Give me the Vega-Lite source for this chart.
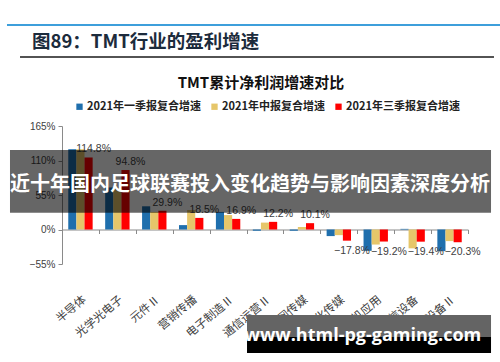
{
  "$schema": "https://vega.github.io/schema/vega-lite/v6.json",
  "width": 406,
  "height": 138,
  "autosize": "none",
  "padding": {"left": 62, "top": 126, "right": 32, "bottom": 98},
  "background": "white",
  "config": {"view": {"stroke": null}, "font": "Liberation Sans"},
  "layer": [
    {
      "data": {"values": [
        {"cat": "半导体", "s": "2021年一季报复合增速", "v": 1.28},
        {"cat": "半导体", "s": "2021年中报复合增速", "v": 1.28},
        {"cat": "半导体", "s": "2021年三季报复合增速", "v": 1.148},
        {"cat": "光学光电子", "s": "2021年一季报复合增速", "v": 0.67},
        {"cat": "光学光电子", "s": "2021年中报复合增速", "v": 0.67},
        {"cat": "光学光电子", "s": "2021年三季报复合增速", "v": 0.948},
        {"cat": "元件Ⅱ", "s": "2021年一季报复合增速", "v": 0.37},
        {"cat": "元件Ⅱ", "s": "2021年中报复合增速", "v": 0.28},
        {"cat": "元件Ⅱ", "s": "2021年三季报复合增速", "v": 0.299},
        {"cat": "营销传播", "s": "2021年一季报复合增速", "v": 0.07},
        {"cat": "营销传播", "s": "2021年中报复合增速", "v": 0.31},
        {"cat": "营销传播", "s": "2021年三季报复合增速", "v": 0.185},
        {"cat": "电子制造Ⅱ", "s": "2021年一季报复合增速", "v": 0.28},
        {"cat": "电子制造Ⅱ", "s": "2021年中报复合增速", "v": 0.23},
        {"cat": "电子制造Ⅱ", "s": "2021年三季报复合增速", "v": 0.169},
        {"cat": "通信运营Ⅱ", "s": "2021年一季报复合增速", "v": -0.02},
        {"cat": "通信运营Ⅱ", "s": "2021年中报复合增速", "v": 0.11},
        {"cat": "通信运营Ⅱ", "s": "2021年三季报复合增速", "v": 0.122},
        {"cat": "互联网传媒", "s": "2021年一季报复合增速", "v": -0.02},
        {"cat": "互联网传媒", "s": "2021年中报复合增速", "v": 0.04},
        {"cat": "互联网传媒", "s": "2021年三季报复合增速", "v": 0.101},
        {"cat": "文化传媒", "s": "2021年一季报复合增速", "v": -0.105},
        {"cat": "文化传媒", "s": "2021年中报复合增速", "v": -0.09},
        {"cat": "文化传媒", "s": "2021年三季报复合增速", "v": -0.178},
        {"cat": "计算机应用", "s": "2021年一季报复合增速", "v": -0.34},
        {"cat": "计算机应用", "s": "2021年中报复合增速", "v": -0.24},
        {"cat": "计算机应用", "s": "2021年三季报复合增速", "v": -0.192},
        {"cat": "通信设备", "s": "2021年一季报复合增速", "v": 0.01},
        {"cat": "通信设备", "s": "2021年中报复合增速", "v": -0.3},
        {"cat": "通信设备", "s": "2021年三季报复合增速", "v": -0.194},
        {"cat": "计算机设备Ⅱ", "s": "2021年一季报复合增速", "v": -0.345},
        {"cat": "计算机设备Ⅱ", "s": "2021年中报复合增速", "v": -0.185},
        {"cat": "计算机设备Ⅱ", "s": "2021年三季报复合增速", "v": -0.203}
      ]},
      "encoding": {
        "x": {"field": "cat", "type": "nominal", "sort": null,
              "scale": {"paddingInner": 0, "paddingOuter": 0},
              "axis": {"title": null, "offset": -34.5, "domainColor": "#8a8a8a", "tickColor": "#8a8a8a", "tickBand": "extent", "tickSize": 4, "labelAngle": -40, "labelPadding": 60, "labelFont": "Noto Sans CJK SC", "labelFontSize": 11.5, "labelColor": "#404040"}},
        "xOffset": {"field": "s", "type": "nominal", "sort": null, "scale": {"paddingInner": 0, "paddingOuter": 0.77}},
        "y": {"field": "v", "type": "quantitative",
              "scale": {"domain": [-0.55, 1.65], "nice": false},
              "axis": {"title": null, "values": [-0.55, 0, 0.55, 1.1, 1.65], "format": ".0%", "grid": false, "domainColor": "#8a8a8a", "tickColor": "#8a8a8a", "tickSize": 4, "labelFontSize": 10, "labelColor": "#404040", "labelPadding": 3}}
      },
      "layer": [
        {
          "mark": {"type": "bar"},
          "encoding": {
            "color": {"field": "s", "type": "nominal", "sort": null,
                      "scale": {"range": ["#1f6fad", "#e6c66a", "#ff0000"]},
                      "legend": {"title": null, "orient": "none", "direction": "horizontal", "legendX": 12, "legendY": -25, "symbolType": "square", "symbolSize": 40, "symbolStrokeWidth": 0, "labelFontSize": 11, "labelFontWeight": "bold", "labelColor": "#222222", "labelFont": "Noto Sans CJK SC", "labelOffset": 2, "columnPadding": 8, "padding": 0}}
          }
        },
        {
          "transform": [{"filter": "datum.s == '2021年三季报复合增速' && datum.v >= 0"}],
          "mark": {"type": "text", "dx": 5, "dy": -8, "fontSize": 10.5, "color": "#404040", "baseline": "middle"},
          "encoding": {"text": {"field": "v", "type": "quantitative", "format": ".1%"}}
        },
        {
          "transform": [{"filter": "datum.s == '2021年三季报复合增速' && datum.v < 0"}],
          "mark": {"type": "text", "dx": 5, "dy": 10, "fontSize": 10.5, "color": "#404040", "baseline": "middle"},
          "encoding": {"text": {"field": "v", "type": "quantitative", "format": ".1%"}}
        }
      ]
    },
    {
      "data": {"values": [
        {"item": "topline", "x1": -0.1355, "x2": 1.0788, "y1": 3.26}
      ]},
      "mark": {"type": "rule", "color": "#3d9fdb", "strokeWidth": 2},
      "encoding": {
        "x": {"field": "x1", "type": "quantitative", "scale": {"domain": [0, 1], "nice": false, "zero": false}, "axis": null},
        "x2": {"field": "x2"},
        "y": {"field": "y1", "type": "quantitative", "scale": {"domain": [-0.55, 1.65], "nice": false}, "axis": null}
      }
    },
    {
      "data": {"values": [
        {"item": "titleline", "x1": -0.1034, "x2": 1.064, "y1": 2.75}
      ]},
      "mark": {"type": "rule", "color": "#1a1a1a", "strokeWidth": 1.5},
      "encoding": {
        "x": {"field": "x1", "type": "quantitative", "scale": {"domain": [0, 1], "nice": false, "zero": false}, "axis": null},
        "x2": {"field": "x2"},
        "y": {"field": "y1", "type": "quantitative", "scale": {"domain": [-0.55, 1.65], "nice": false}, "axis": null}
      }
    },
    {
      "data": {"values": [
        {"t": "图89：TMT行业的盈利增速", "x": -0.0739, "y": 2.99}
      ]},
      "mark": {"type": "text", "align": "left", "baseline": "middle", "font": "Noto Sans CJK SC", "fontSize": 18.5, "fontWeight": "bold", "color": "#1c2b3c"},
      "encoding": {
        "x": {"field": "x", "type": "quantitative", "scale": {"domain": [0, 1], "nice": false, "zero": false}, "axis": null},
        "y": {"field": "y", "type": "quantitative", "scale": {"domain": [-0.55, 1.65], "nice": false}, "axis": null},
        "text": {"field": "t"}
      }
    },
    {
      "data": {"values": [
        {"t": "TMT累计净利润增速对比", "x": 0.49, "y": 2.33}
      ]},
      "mark": {"type": "text", "align": "center", "baseline": "middle", "font": "Noto Sans CJK SC", "fontSize": 15, "fontWeight": "bold", "color": "#111111"},
      "encoding": {
        "x": {"field": "x", "type": "quantitative", "scale": {"domain": [0, 1], "nice": false, "zero": false}, "axis": null},
        "y": {"field": "y", "type": "quantitative", "scale": {"domain": [-0.55, 1.65], "nice": false}, "axis": null},
        "text": {"field": "t"}
      }
    },
    {
      "data": {"values": [
        {"item": "banner", "x1": -0.1281, "x2": 1.0567, "y1": 1.267, "y2": 0.268}
      ]},
      "mark": {"type": "rect", "color": "#000000", "opacity": 0.6},
      "encoding": {
        "x": {"field": "x1", "type": "quantitative", "scale": {"domain": [0, 1], "nice": false, "zero": false}, "axis": null},
        "x2": {"field": "x2"},
        "y": {"field": "y1", "type": "quantitative", "scale": {"domain": [-0.55, 1.65], "nice": false}, "axis": null},
        "y2": {"field": "y2"}
      }
    },
    {
      "data": {"values": [
        {"t": "近十年国内足球联赛投入变化趋势与影响因素深度分析", "x": 0.463, "y": 0.709}
      ]},
      "mark": {"type": "text", "align": "center", "baseline": "middle", "font": "Noto Sans CJK SC", "fontSize": 20, "fontWeight": "bold", "color": "#ffffff"},
      "encoding": {
        "x": {"field": "x", "type": "quantitative", "scale": {"domain": [0, 1], "nice": false, "zero": false}, "axis": null},
        "y": {"field": "y", "type": "quantitative", "scale": {"domain": [-0.55, 1.65], "nice": false}, "axis": null},
        "text": {"field": "t"}
      }
    },
    {
      "data": {"values": [
        {"item": "wm-top", "x1": 0.4557, "x2": 1.0567, "y1": -1.363, "y2": -1.714, "c": "gray"},
        {"item": "wm-bottom", "x1": 0.4557, "x2": 1.0567, "y1": -1.714, "y2": -1.969, "c": "black"}
      ]},
      "mark": {"type": "rect"},
      "encoding": {
        "x": {"field": "x1", "type": "quantitative", "scale": {"domain": [0, 1], "nice": false, "zero": false}, "axis": null},
        "x2": {"field": "x2"},
        "y": {"field": "y1", "type": "quantitative", "scale": {"domain": [-0.55, 1.65], "nice": false}, "axis": null},
        "y2": {"field": "y2"},
        "color": {"field": "c", "type": "nominal", "scale": {"domain": ["gray", "black"], "range": ["#646464", "#000000"]}, "legend": null}
      }
    },
    {
      "data": {"values": [
        {"t": "www.html-pg-gaming.com", "x": 0.741, "y": -1.698}
      ]},
      "mark": {"type": "text", "align": "center", "baseline": "middle", "font": "Open Sans", "fontSize": 18, "fontWeight": "bold", "color": "#ffffff"},
      "encoding": {
        "x": {"field": "x", "type": "quantitative", "scale": {"domain": [0, 1], "nice": false, "zero": false}, "axis": null},
        "y": {"field": "y", "type": "quantitative", "scale": {"domain": [-0.55, 1.65], "nice": false}, "axis": null},
        "text": {"field": "t"}
      }
    }
  ],
  "resolve": {"scale": {"x": "independent", "y": "independent", "color": "independent"}}
}
